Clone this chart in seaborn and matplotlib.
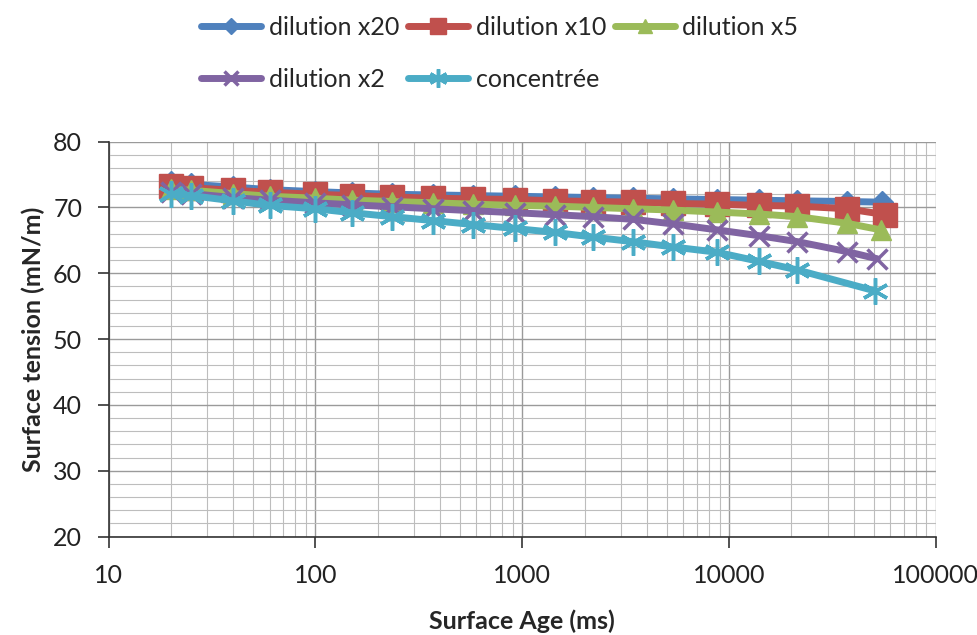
import matplotlib
matplotlib.use("Agg")
import matplotlib.pyplot as plt
import seaborn as sns
import numpy as np
from matplotlib.ticker import LogLocator, MultipleLocator, FixedLocator, NullFormatter

# ---- data ----
surface_age = [20, 25, 40, 60, 100, 150, 235, 370, 580, 920, 1440, 2190,
               3420, 5340, 8710, 14000, 21400, 37000]
age_last = {"dilution x20": 55000, "dilution x10": 57000, "dilution x5": 54000,
            "dilution x2": 52000, "concentrée": 51000}

dil_x20 = [73.8, 73.5, 73.1, 72.7, 72.4, 72.2, 72.0, 71.9, 71.8, 71.7, 71.6, 71.5,
           71.4, 71.3, 71.2, 71.1, 71.0, 70.9, 70.8]
dil_x10 = [73.2, 73.0, 72.6, 72.3, 72.0, 71.8, 71.6, 71.4, 71.3, 71.2, 71.0, 70.9,
           70.8, 70.6, 70.5, 70.3, 70.2, 69.8, 68.9]
dil_x5 = [72.8, 72.6, 72.1, 71.7, 71.4, 71.1, 70.9, 70.7, 70.5, 70.3, 70.2, 70.0,
          69.8, 69.6, 69.3, 69.0, 68.6, 67.6, 66.6]
dil_x2 = [72.3, 72.1, 71.5, 71.1, 70.7, 70.4, 70.1, 69.8, 69.5, 69.2, 68.9, 68.6,
          68.2, 67.5, 66.6, 65.7, 64.8, 63.3, 62.2]
concentree = [72.0, 71.8, 71.0, 70.3, 69.8, 69.2, 68.6, 68.0, 67.4, 66.8, 66.2, 65.5,
              64.8, 64.0, 63.2, 61.8, 60.5, 57.3]

series_names = ["dilution x20", "dilution x10", "dilution x5", "dilution x2", "concentrée"]
series_values = [dil_x20, dil_x10, dil_x5, dil_x2, concentree]

x_ticks = [10, 100, 1000, 10000, 100000]
x_tick_labels = ["10", "100", "1000", "10000", "100000"]
y_ticks = [20, 30, 40, 50, 60, 70, 80]

# ---- styles ----
colors = ["#4F81BD", "#C0504D", "#9BBB59", "#8064A2", "#4BACC6"]
markers = ["D", "s", "^", "x", (6, 2, 0)]
msizes = [11, 17, 14, 15, 19]
mews = [1, 1, 1, 2.5, 2.5]

sns.set_style("white")
plt.rcParams["font.family"] = ["Lato", "DejaVu Sans"]

fig = plt.figure(figsize=(9.78, 6.35), dpi=100)
ax = fig.add_axes([0.111, 0.155, 0.846, 0.622])

for name, vals, c, m, ms, mew in zip(series_names, series_values, colors, markers, msizes, mews):
    n = len(vals)
    xs = surface_age[: n - 1] + [age_last[name]]
    sns.lineplot(x=xs, y=vals, ax=ax, color=c, marker=m, markersize=ms,
                 markeredgewidth=mew, markeredgecolor=c, linewidth=5,
                 label=name, legend=False, sort=False, estimator=None)

ax.set_xscale("log")
ax.set_xlim(10, 100000)
ax.set_ylim(20, 80)
ax.xaxis.set_major_locator(FixedLocator(x_ticks))
ax.set_xticklabels(x_tick_labels)
ax.xaxis.set_minor_locator(LogLocator(base=10, subs=np.arange(2, 10)))
ax.xaxis.set_minor_formatter(NullFormatter())
ax.yaxis.set_major_locator(FixedLocator(y_ticks))
ax.yaxis.set_minor_locator(MultipleLocator(2))

ax.grid(True, which="major", color="#9a9a9a", linewidth=1.0)
ax.grid(True, which="minor", color="#bdbdbd", linewidth=0.8)
ax.set_axisbelow(True)

for s in ["top", "right"]:
    ax.spines[s].set_visible(False)
for s in ["left", "bottom"]:
    ax.spines[s].set_color("#333333")
    ax.spines[s].set_linewidth(1.2)

ax.tick_params(axis="both", which="major", direction="out", length=8, width=1.2,
               color="#333333", labelsize=18, labelcolor="#222222", left=True, bottom=True)
ax.tick_params(axis="x", which="major", pad=12)
ax.tick_params(axis="y", which="major", pad=11)
ax.tick_params(axis="both", which="minor", length=0)

ax.set_xlabel("Surface Age (ms)", fontsize=18, fontweight="bold", labelpad=16)
ax.set_ylabel("Surface tension (mN/m)", fontsize=18, fontweight="bold", labelpad=6)

h, l = ax.get_legend_handles_labels()
order = [0, 3, 1, 4, 2]
leg = fig.legend([h[i] for i in order], [l[i] for i in order], ncol=3,
                 loc="upper left", bbox_to_anchor=(0.183, 1.01), frameon=False,
                 fontsize=18, handlelength=2.4, handletextpad=0.3, columnspacing=0.35,
                 labelspacing=1.15, markerscale=0.7)

fig.savefig("out.png", dpi=100)
